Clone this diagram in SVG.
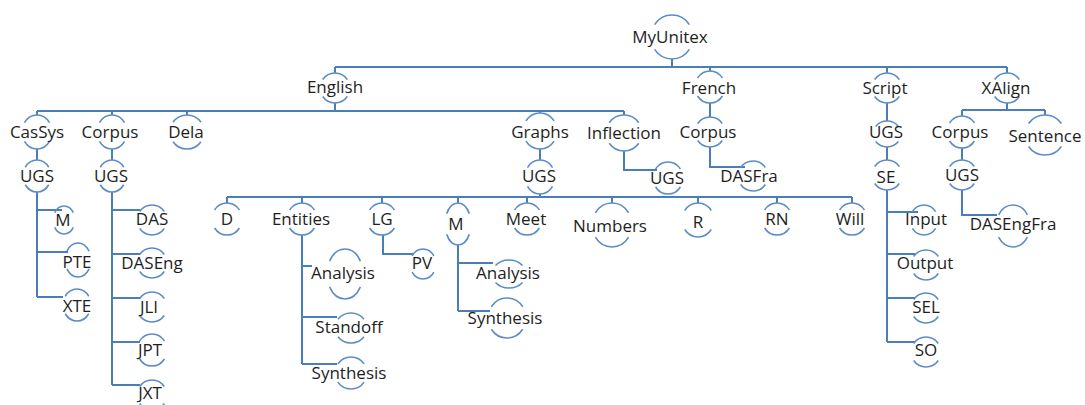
<svg xmlns="http://www.w3.org/2000/svg" width="1085" height="405" viewBox="0 0 1085 405">
<style>
.ring{fill:none;stroke:#5b8cc8;stroke-width:1.6;stroke-dasharray:0 35 110 70 110 35;}
text{font-family:"Open Sans","Liberation Sans",sans-serif;font-size:17px;fill:#1e1e1e;text-anchor:middle;}
#connectors path{fill:none;stroke:#4a7ebb;stroke-width:2;}
</style>
<rect width="1085" height="405" fill="#ffffff"/>
<g id="connectors">
<path d="M672,59V67M335,67H1007M335,67V73M710,67V71M887,67V73M1007,67V73"/>
<path d="M335,103V111M37,111H624M37,111V115M112,111V115M187,111V115M540,111V113M624,111V115"/>
<path d="M37,149V160M112,149V160"/>
<path d="M37,192V297M37,210H62M37,252H68M37,297H63"/>
<path d="M112,192V385M112,210H140M112,254H140M112,298H140M112,342H140M112,385H140"/>
<path d="M540,149V160M540,194V197M227,197H852M227,197V203M302,197V203M382,197V203M458,197V203M527,197V203M612,197V203M698,197V203M777,197V203M852,197V203"/>
<path d="M302,235V364M302,266H312M302,317H337M302,364H337"/>
<path d="M383,235V254H413"/>
<path d="M458,245V311M458,263H493M458,311H490"/>
<path d="M624,151V170H657"/>
<path d="M710,103V117M710,147V167H745"/>
<path d="M887,103V121M887,147V160M887,190V342M887,212H918M887,254H915M887,298H915M887,342H915"/>
<path d="M1007,103V110M962,110H1045M962,110V116M1045,110V115M962,148V160M962,190V215H997"/>
</g>
<g id="n-myunitex"><ellipse class="ring" pathLength="360" cx="672" cy="37" rx="21" ry="22"/><text x="670" y="43">MyUnitex</text></g>
<g id="n-english"><ellipse class="ring" pathLength="360" cx="335" cy="88" rx="15" ry="15"/><text x="335" y="93">English</text></g>
<g id="n-french"><ellipse class="ring" pathLength="360" cx="710" cy="87" rx="15" ry="16"/><text x="709" y="94">French</text></g>
<g id="n-script"><ellipse class="ring" pathLength="360" cx="887" cy="88" rx="15" ry="15"/><text x="885" y="94">Script</text></g>
<g id="n-xalign"><ellipse class="ring" pathLength="360" cx="1007" cy="88" rx="15" ry="15"/><text x="1006" y="94">XAlign</text></g>
<g id="n-cassys"><ellipse class="ring" pathLength="360" cx="37" cy="132" rx="15" ry="17"/><text x="37" y="138">CasSys</text></g>
<g id="n-corpus-en"><ellipse class="ring" pathLength="360" cx="112" cy="132" rx="15" ry="17"/><text x="110" y="138">Corpus</text></g>
<g id="n-dela"><ellipse class="ring" pathLength="360" cx="187" cy="132" rx="17" ry="17"/><text x="186" y="138">Dela</text></g>
<g id="n-graphs"><ellipse class="ring" pathLength="360" cx="540" cy="131" rx="17" ry="18"/><text x="540" y="138">Graphs</text></g>
<g id="n-inflection"><ellipse class="ring" pathLength="360" cx="624" cy="133" rx="18" ry="18"/><text x="624" y="139">Inflection</text></g>
<g id="n-ugs-cassys"><ellipse class="ring" pathLength="360" cx="37" cy="176" rx="14" ry="16"/><text x="37" y="182">UGS</text></g>
<g id="n-ugs-corpus"><ellipse class="ring" pathLength="360" cx="112" cy="176" rx="14" ry="16"/><text x="111" y="182">UGS</text></g>
<g id="n-ugs-graphs"><ellipse class="ring" pathLength="360" cx="540" cy="177" rx="15" ry="17"/><text x="539" y="182">UGS</text></g>
<g id="n-ugs-inflection"><ellipse class="ring" pathLength="360" cx="668" cy="178" rx="15" ry="16"/><text x="667" y="184">UGS</text></g>
<g id="n-corpus-fr"><ellipse class="ring" pathLength="360" cx="710" cy="132" rx="15" ry="15"/><text x="708" y="138">Corpus</text></g>
<g id="n-dasfra"><ellipse class="ring" pathLength="360" cx="753" cy="176" rx="15" ry="15"/><text x="749" y="182">DASFra</text></g>
<g id="n-ugs-script"><ellipse class="ring" pathLength="360" cx="887" cy="134" rx="14" ry="13"/><text x="886" y="138">UGS</text></g>
<g id="n-se"><ellipse class="ring" pathLength="360" cx="887" cy="175" rx="15" ry="15"/><text x="886" y="183">SE</text></g>
<g id="n-input"><ellipse class="ring" pathLength="360" cx="924" cy="220" rx="14" ry="15"/><text x="926" y="225">Input</text></g>
<g id="n-output"><ellipse class="ring" pathLength="360" cx="926" cy="265" rx="15" ry="15"/><text x="925" y="269">Output</text></g>
<g id="n-sel"><ellipse class="ring" pathLength="360" cx="926" cy="308" rx="15" ry="15"/><text x="926" y="313">SEL</text></g>
<g id="n-so"><ellipse class="ring" pathLength="360" cx="926" cy="352" rx="15" ry="15"/><text x="926" y="356">SO</text></g>
<g id="n-corpus-xa"><ellipse class="ring" pathLength="360" cx="962" cy="132" rx="15" ry="16"/><text x="960" y="138">Corpus</text></g>
<g id="n-sentence"><ellipse class="ring" pathLength="360" cx="1045" cy="135" rx="20" ry="20"/><text x="1045" y="142">Sentence</text></g>
<g id="n-ugs-xa"><ellipse class="ring" pathLength="360" cx="962" cy="175" rx="15" ry="15"/><text x="962" y="181">UGS</text></g>
<g id="n-dasengfra"><ellipse class="ring" pathLength="360" cx="1013" cy="226" rx="17" ry="21"/><text x="1013" y="230">DASEngFra</text></g>
<g id="n-d"><ellipse class="ring" pathLength="360" cx="227" cy="219" rx="15" ry="16"/><text x="227" y="225">D</text></g>
<g id="n-entities"><ellipse class="ring" pathLength="360" cx="302" cy="219" rx="15" ry="16"/><text x="301" y="225">Entities</text></g>
<g id="n-lg"><ellipse class="ring" pathLength="360" cx="382" cy="219" rx="15" ry="16"/><text x="382" y="225">LG</text></g>
<g id="n-m-graphs"><ellipse class="ring" pathLength="360" cx="458" cy="224" rx="13" ry="21"/><text x="456" y="230">M</text></g>
<g id="n-meet"><ellipse class="ring" pathLength="360" cx="527" cy="219" rx="15" ry="16"/><text x="526" y="225">Meet</text></g>
<g id="n-numbers"><ellipse class="ring" pathLength="360" cx="612" cy="225" rx="20" ry="22"/><text x="610" y="232">Numbers</text></g>
<g id="n-r"><ellipse class="ring" pathLength="360" cx="698" cy="220" rx="16" ry="17"/><text x="698" y="228">R</text></g>
<g id="n-rn"><ellipse class="ring" pathLength="360" cx="777" cy="219" rx="15" ry="16"/><text x="777" y="225">RN</text></g>
<g id="n-will"><ellipse class="ring" pathLength="360" cx="852" cy="219" rx="15" ry="16"/><text x="850" y="225">Will</text></g>
<g id="n-analysis-ent"><ellipse class="ring" pathLength="360" cx="345" cy="274" rx="18" ry="25"/><text x="343" y="279">Analysis</text></g>
<g id="n-standoff"><ellipse class="ring" pathLength="360" cx="351" cy="328" rx="16" ry="15"/><text x="349" y="333">Standoff</text></g>
<g id="n-synthesis-ent"><ellipse class="ring" pathLength="360" cx="351" cy="373" rx="16" ry="16"/><text x="349" y="379">Synthesis</text></g>
<g id="n-pv"><ellipse class="ring" pathLength="360" cx="423" cy="264" rx="13" ry="15"/><text x="422" y="269">PV</text></g>
<g id="n-analysis-m"><ellipse class="ring" pathLength="360" cx="509" cy="274" rx="17" ry="14"/><text x="508" y="279">Analysis</text></g>
<g id="n-synthesis-m"><ellipse class="ring" pathLength="360" cx="507" cy="318" rx="19" ry="20"/><text x="505" y="324">Synthesis</text></g>
<g id="n-m-cassys"><ellipse class="ring" pathLength="360" cx="64" cy="220" rx="11" ry="14"/><text x="63" y="226">M</text></g>
<g id="n-pte"><ellipse class="ring" pathLength="360" cx="78" cy="260" rx="13" ry="17"/><text x="77" y="268">PTE</text></g>
<g id="n-xte"><ellipse class="ring" pathLength="360" cx="77" cy="305" rx="14" ry="16"/><text x="77" y="312">XTE</text></g>
<g id="n-das"><ellipse class="ring" pathLength="360" cx="152" cy="220" rx="15" ry="15"/><text x="152" y="225">DAS</text></g>
<g id="n-daseng"><ellipse class="ring" pathLength="360" cx="152" cy="263" rx="15" ry="15"/><text x="152" y="269">DASEng</text></g>
<g id="n-jli"><ellipse class="ring" pathLength="360" cx="152" cy="307" rx="15" ry="15"/><text x="149" y="313">JLI</text></g>
<g id="n-jpt"><ellipse class="ring" pathLength="360" cx="152" cy="350" rx="15" ry="16"/><text x="150" y="356">JPT</text></g>
<g id="n-jxt"><ellipse class="ring" pathLength="360" cx="152" cy="395" rx="15" ry="15"/><text x="150" y="399">JXT</text></g>
</svg>
